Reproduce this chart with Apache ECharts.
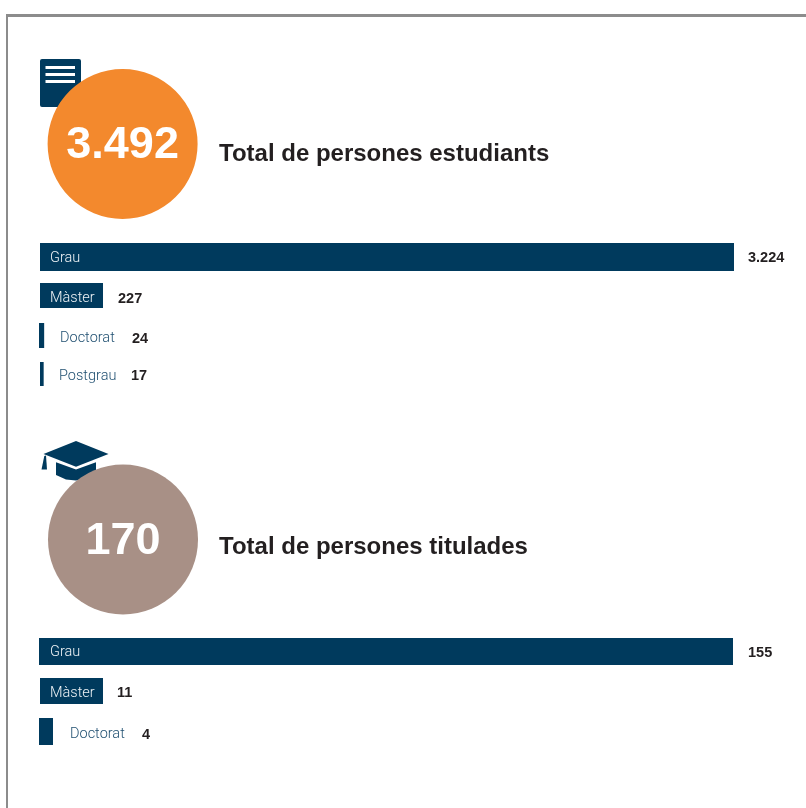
<!DOCTYPE html>
<html>
<head>
<meta charset="utf-8">
<title>Persones estudiants i titulades</title>
<script src="https://cdn.jsdelivr.net/npm/echarts@6/dist/echarts.min.js"></script>
<style>
  html, body { margin: 0; padding: 0; background: #fff; }
  #chart { width: 806px; height: 808px; }
</style>
</head>
<body>
<div id="chart"></div>
<script>
const totalEstudiants = 3492;
const totalEstudiantsLabel = "3.492";
const totalTitulades = 170;
const totalTituladesLabel = "170";

const estudiantsCategories = ["Grau", "Màster", "Doctorat", "Postgrau"];
const estudiantsLabels = ["3.224", "227", "24", "17"];
// lengths as the picture draws them: Màster is wider than its figure, so its name fits
const estudiantsBars = [3224, 292.7, 24, 17];

const tituladesCategories = ["Grau", "Màster", "Doctorat"];
const tituladesLabels = ["155", "11", "4"];
const tituladesBars = [155, 14.07, 3.13];

const NAVY = "#003a5d";
const FONT = "'Liberation Sans', Arial, sans-serif";
const NAME_FONT = "Roboto, 'Liberation Sans', sans-serif";
const BAR_SPAN = 694;

// one row = one small grid, the rows are not evenly spaced in the original
const estudiantsRows = [
  { left: 40, top: 243, height: 28, nameX: 50, valueX: 748, dy: 1, inside: true },
  { left: 40, top: 283, height: 25, nameX: 50, valueX: 118, dy: 3, inside: true },
  { left: 39, top: 323, height: 25, nameX: 60, valueX: 132, dy: 3 },
  { left: 40, top: 362, height: 24, nameX: 59, valueX: 131, dy: 2 },
];
const tituladesRows = [
  { left: 39, top: 638, height: 27, nameX: 50, valueX: 748, dy: 1, inside: true },
  { left: 40, top: 678, height: 26, nameX: 50, valueX: 117, dy: 2, inside: true },
  { left: 39, top: 718, height: 27, nameX: 70, valueX: 142, dy: 3 },
];

const grids = [];
const xAxes = [];
const yAxes = [];
const series = [];

function addRows(rows, categories, bars, labels) {
  const max = bars[0];
  rows.forEach((row, i) => {
    const idx = grids.length;
    grids.push({ left: row.left, top: row.top, width: BAR_SPAN, height: row.height });
    xAxes.push({ gridIndex: idx, type: "value", min: 0, max: max, show: false });
    yAxes.push({ gridIndex: idx, type: "category", data: [categories[i]], show: false });
    series.push({
      type: "bar",
      xAxisIndex: idx,
      yAxisIndex: idx,
      barWidth: "100%",
      barGap: "-100%",
      silent: true,
      itemStyle: { color: NAVY },
      label: {
        show: true,
        position: "insideLeft",
        distance: row.nameX - row.left,
        offset: [0, row.dy],
        formatter: categories[i],
        fontFamily: NAME_FONT,
        fontSize: 14.5,
        fontWeight: 300,
        color: row.inside ? "#eef3f6" : "#1f4f70",
      },
      data: [bars[i]],
    });
    series.push({
      type: "bar",
      xAxisIndex: idx,
      yAxisIndex: idx,
      barWidth: "100%",
      barGap: "-100%",
      silent: true,
      itemStyle: { color: "transparent" },
      label: {
        show: true,
        position: "insideLeft",
        distance: row.valueX - row.left,
        offset: [0, row.dy],
        formatter: labels[i],
        fontFamily: FONT,
        fontSize: 14.5,
        fontWeight: "bold",
        color: "#231f20",
      },
      data: [bars[i]],
    });
  });
}

function totalCircle(value, text, color, cx, cy, r) {
  return {
    type: "pie",
    silent: true,
    z: 5,
    center: [cx, cy],
    radius: [0, r],
    label: {
      show: true,
      position: "center",
      formatter: text,
      offset: [0, 2],
      fontFamily: FONT,
      fontSize: 45,
      fontWeight: "bold",
      color: "#fff",
    },
    labelLine: { show: false },
    itemStyle: { color: color },
    data: [{ value: value, name: text }],
  };
}

addRows(estudiantsRows, estudiantsCategories, estudiantsBars, estudiantsLabels);
addRows(tituladesRows, tituladesCategories, tituladesBars, tituladesLabels);
series.push(totalCircle(totalEstudiants, totalEstudiantsLabel, "#f3892d", 122.6, 144, 75));
series.push(totalCircle(totalTitulades, totalTituladesLabel, "#a89086", 123, 539.5, 75));

const titleStyle = { fontFamily: FONT, fontSize: 24, fontWeight: "bold", color: "#231f20" };

const chart = echarts.init(document.getElementById("chart"));
chart.setOption({
  animation: false,
  backgroundColor: "#fff",
  title: [
    { text: "Total de persones estudiants", left: 219 - 5, top: 142 - 5, textStyle: titleStyle },
    { text: "Total de persones titulades", left: 219 - 5, top: 535 - 5, textStyle: titleStyle },
  ],
  grid: grids,
  xAxis: xAxes,
  yAxis: yAxes,
  series: series,
  graphic: [
    // frame, open on the right and at the bottom
    { type: "rect", z: 0, silent: true, shape: { x: 6, y: 14, width: 800, height: 3 }, style: { fill: "#8c8c8c" } },
    { type: "rect", z: 0, silent: true, shape: { x: 6, y: 14, width: 2, height: 794 }, style: { fill: "#8c8c8c" } },
    // document icon
    { type: "rect", z: 0, silent: true, shape: { x: 40, y: 59, width: 41, height: 48, r: 2 }, style: { fill: NAVY } },
    { type: "rect", z: 0, silent: true, shape: { x: 45.5, y: 66, width: 29.5, height: 3 }, style: { fill: "#fff" } },
    { type: "rect", z: 0, silent: true, shape: { x: 45.5, y: 73, width: 29.5, height: 3 }, style: { fill: "#fff" } },
    { type: "rect", z: 0, silent: true, shape: { x: 45.5, y: 80, width: 29.5, height: 3 }, style: { fill: "#fff" } },
    // mortarboard icon
    { type: "polygon", z: 0, silent: true, shape: { points: [[76, 441], [108.5, 454], [76, 466.7], [43.5, 454]] }, style: { fill: NAVY } },
    { type: "polygon", z: 0, silent: true, shape: { points: [[56, 462.3], [76, 469.5], [96, 462.3], [96, 475], [86, 479], [76, 480.5], [66, 479.5], [56, 475]] }, style: { fill: NAVY } },
    { type: "polygon", z: 0, silent: true, shape: { points: [[44.3, 456], [46, 455.5], [47, 469.5], [41.5, 469.5]] }, style: { fill: NAVY } },
  ],
});
</script>
</body>
</html>
